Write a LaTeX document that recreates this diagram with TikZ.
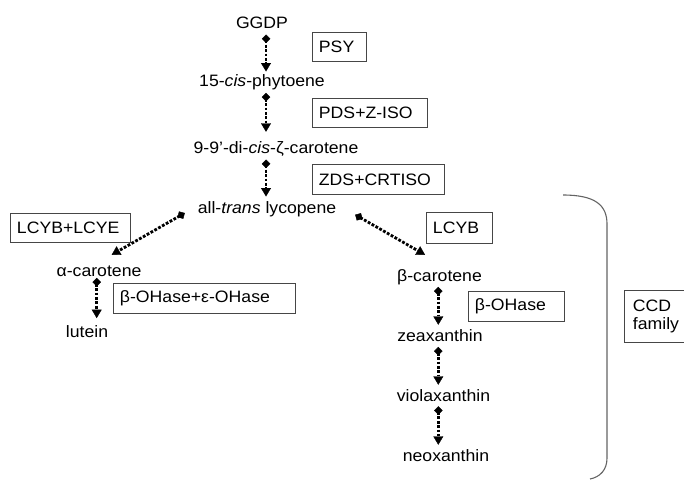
\documentclass[tikz,border=0pt]{standalone}
\usepackage{fontspec}
\setmainfont{Liberation Sans}[FakeStretch=1.07]
\usetikzlibrary{arrows.meta}
\definecolor{boxgray}{RGB}{70,70,70}
\definecolor{brgray}{RGB}{100,100,100}
\begin{document}
\begin{tikzpicture}[x=1pt,y=-1pt,
  every node/.style={font=\fontsize{16.5}{18.5}\selectfont},
  chem/.style={inner sep=0pt, text height=11pt, text depth=3pt, anchor=base},
  enz/.style={draw=boxgray, line width=0.9pt, anchor=north west, inner xsep=6.5pt, inner ysep=0pt, align=left},
  flow/.style={line width=2.8pt, dash pattern=on 2.8pt off 1.6pt,
    {Diamond[length=8.5pt,width=8.5pt,line width=0.4pt]}-{Triangle[length=8.5pt,width=10pt,line width=0.4pt]}}
]
\fill[white] (0,0) rectangle (684,485);
\useasboundingbox (0,0) rectangle (684,485);

% compounds
\node[chem] (ggdp) at (262,28) {GGDP};
\node[chem] (phy) at (262,86.5) {15-\textit{cis}-phytoene};
\node[chem] (zcar) at (276,153) {9-9’-di-\textit{cis}-ζ-carotene};
\node[chem] (lyc) at (267,213) {all-\textit{trans} lycopene};
\node[chem] (acar) at (99,276) {α-carotene};
\node[chem] (lut) at (87,337) {lutein};
\node[chem] (bcar) at (439.5,281.5) {β-carotene};
\node[chem] (zea) at (440,341.5) {zeaxanthin};
\node[chem] (vio) at (443.5,401.5) {violaxanthin};
\node[chem] (neo) at (446,461.5) {neoxanthin};

% enzymes
\node[enz, text width=41pt, minimum height=29pt] (psy) at (312,32) {PSY};
\node[enz, text width=102pt, minimum height=29pt] (pds) at (312,98) {PDS+Z-ISO};
\node[enz, text width=119pt, minimum height=30pt] (zds) at (312,164) {ZDS+CRTISO};
\node[enz, text width=107pt, minimum height=29pt] (lcyby) at (10,213) {LCYB+LCYE};
\node[enz, text width=169pt, minimum height=30pt] (ohab) at (113,283) {β-OHase+ε-OHase};
\node[enz, text width=53pt, minimum height=31pt] (lcyb) at (426,212) {LCYB};
\node[enz, text width=83pt, minimum height=30pt] (oh) at (468,291) {β-OHase};
\node[enz, inner xsep=8.5pt, text width=50pt, minimum height=52pt] (ccd) at (624,290) {CCD\\family};

% arrows
\draw[flow, shorten <=3.3pt, shorten >=3.8pt] ([xshift=4pt]ggdp.south) -- ([xshift=4pt]phy.north);
\draw[flow, shorten <=3.2pt, shorten >=10pt] ([xshift=4pt]phy.south) -- ([xshift=-10pt]zcar.north);
\draw[flow, shorten <=3.3pt, shorten >=5.3pt] ([xshift=-10pt]zcar.south) -- ([xshift=-1pt]lyc.north);
\draw[flow] ([shift={(-12.8,4)}]lyc.west) -- ([shift={(12.7,-10)}]acar.north);
\draw[flow] ([shift={(18.8,5.7)}]lyc.east) -- ([shift={(-14.5,-15.5)}]bcar.north);
\draw[flow, shorten <=-1.3pt, shorten >=7.7pt] ([xshift=-2.3pt]acar.south) -- ([xshift=9.7pt]lut.north);
\draw[flow, shorten <=2.2pt, shorten >=5.5pt] ([xshift=-1.2pt]bcar.south) -- ([xshift=-1.7pt]zea.north);
\draw[flow, shorten <=2.2pt, shorten >=5.5pt] ([xshift=-1.7pt]zea.south) -- ([xshift=-5.2pt]vio.north);
\draw[flow, shorten <=1.5pt, shorten >=5.5pt] ([xshift=-5.2pt]vio.south) -- ([xshift=-7.7pt]neo.north);

% bracket
\draw[brgray, line width=1.1pt] (563,195) .. controls (595,195) and (607,205) .. (607,224)
  -- (607,458) .. controls (607,470) and (600,477) .. (590,479);
\end{tikzpicture}
\end{document}
